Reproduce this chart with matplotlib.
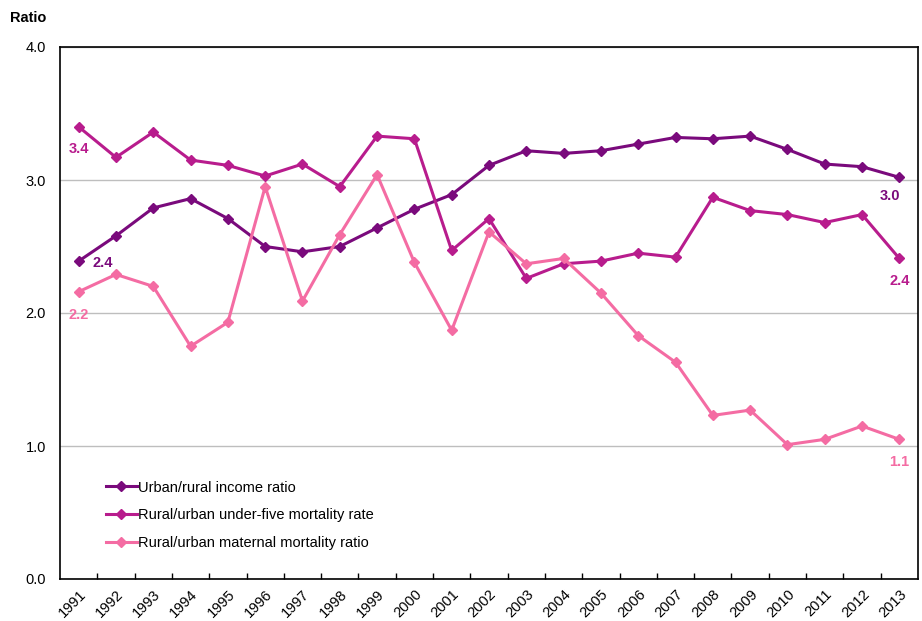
import matplotlib
matplotlib.use("Agg")
import matplotlib.pyplot as plt

years = [str(y) for y in range(1991, 2014)]
income = [2.39, 2.58, 2.79, 2.86, 2.71, 2.50, 2.46, 2.50, 2.64, 2.78, 2.89, 3.11,
          3.22, 3.20, 3.22, 3.27, 3.32, 3.31, 3.33, 3.23, 3.12, 3.10, 3.02]
under5 = [3.40, 3.17, 3.36, 3.15, 3.11, 3.03, 3.12, 2.95, 3.33, 3.31, 2.47, 2.71,
          2.26, 2.37, 2.39, 2.45, 2.42, 2.87, 2.77, 2.74, 2.68, 2.74, 2.41]
maternal = [2.16, 2.29, 2.20, 1.75, 1.93, 2.95, 2.09, 2.59, 3.04, 2.38, 1.87, 2.61,
            2.37, 2.41, 2.15, 1.83, 1.63, 1.23, 1.27, 1.01, 1.05, 1.15, 1.05]
series_names = ["Urban/rural income ratio",
                "Rural/urban under-five mortality rate",
                "Rural/urban maternal mortality ratio"]
colors = ["#7A0A7C", "#B81C8D", "#F46CA3"]

plt.rcParams['font.family'] = ['Liberation Sans', 'DejaVu Sans']

fig = plt.figure(figsize=(9.22, 6.21), dpi=100)
ax = fig.add_axes([60/922, 42/621, 858/922, 532/621])

x = list(range(len(years)))
for vals, name, c in zip([income, under5, maternal], series_names, colors):
    ax.plot(x, vals, color=c, lw=2.2, marker='D', markersize=5.5, label=name, zorder=3)

ax.set_xlim(-0.5, len(years) - 0.5)
ax.set_ylim(0, 4.0)
ax.set_yticks([0, 1, 2, 3, 4])
ax.set_yticklabels([f"{v:.1f}" for v in [0, 1, 2, 3, 4]], fontsize=10.5)
ax.tick_params(axis='y', length=0, pad=10)
ax.set_xticks(x)
ax.set_xticklabels(years, rotation=45, ha='right', rotation_mode='anchor', fontsize=10.5)
ax.tick_params(axis='x', which='major', length=0, pad=6)
ax.set_xticks([i - 0.5 for i in range(1, len(years))], minor=True)
ax.tick_params(axis='x', which='minor', direction='in', length=4, width=1, color='black')

ax.grid(axis='y', color='#BEBEBE', lw=1)
ax.set_axisbelow(True)
for s in ax.spines.values():
    s.set_linewidth(1.2)
    s.set_color('black')

# labels
ax.annotate(f"{under5[0]:.1f}", (0, under5[0]), xytext=(0, -19), textcoords='offset points',
            ha='center', color=colors[1], fontsize=10.5, fontweight='bold')
ax.annotate(f"{income[0]:.1f}", (0, income[0]), xytext=(10, -1.5), textcoords='offset points',
            ha='left', va='center', color=colors[0], fontsize=10.5, fontweight='bold')
ax.annotate(f"{maternal[0]:.1f}", (0, maternal[0]), xytext=(0, -20), textcoords='offset points',
            ha='center', color=colors[2], fontsize=10.5, fontweight='bold')
ax.annotate(f"{income[-1]:.1f}", (22, income[-1]), xytext=(-7, -16), textcoords='offset points',
            ha='center', color=colors[0], fontsize=10.5, fontweight='bold')
ax.annotate(f"{under5[-1]:.1f}", (22, under5[-1]), xytext=(0, -19), textcoords='offset points',
            ha='center', color=colors[1], fontsize=10.5, fontweight='bold')
ax.annotate(f"{maternal[-1]:.1f}", (22, maternal[-1]), xytext=(0, -19), textcoords='offset points',
            ha='center', color=colors[2], fontsize=10.5, fontweight='bold')

fig.text(10/922, 1 - 18/621, "Ratio", fontsize=10.5, fontweight='bold', va='center')

leg = ax.legend(loc='upper left', bbox_to_anchor=(0.047, 0.196), frameon=False, fontsize=10.5,
                handlelength=2.1, handletextpad=0.1, labelspacing=0.95, borderaxespad=0)

fig.savefig("out.png", dpi=100)
